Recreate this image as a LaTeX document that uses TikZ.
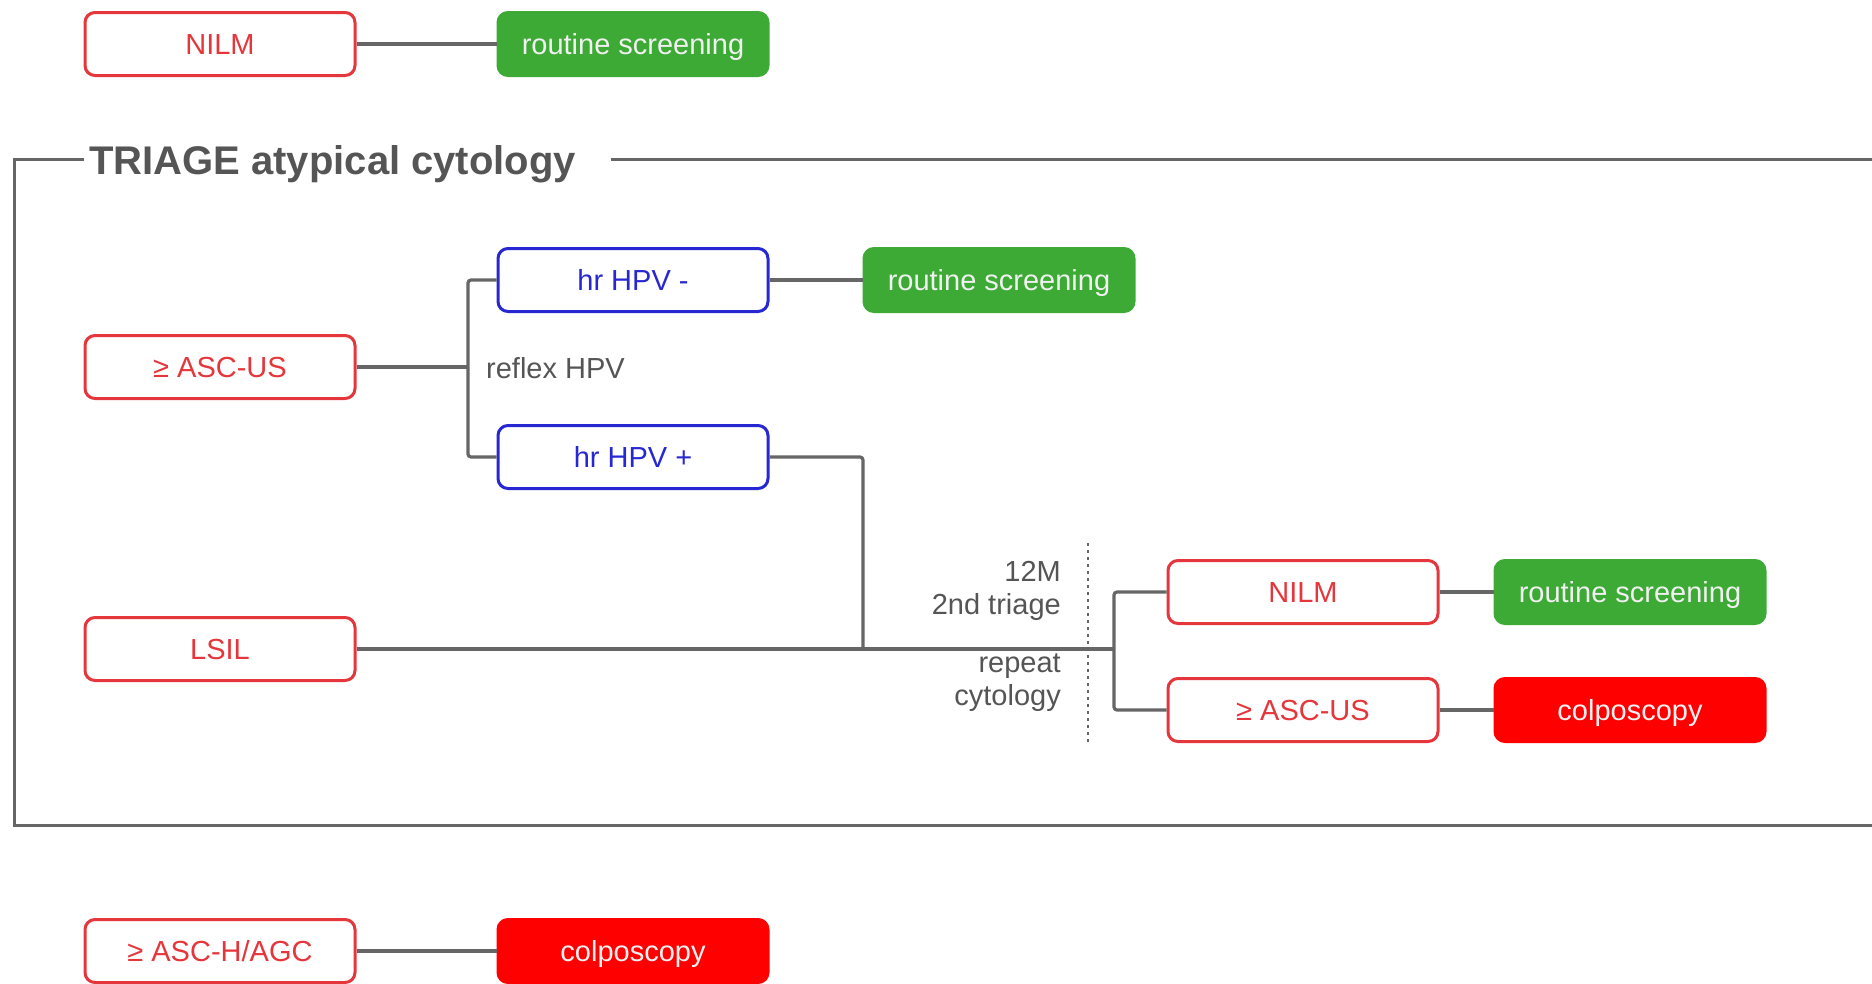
\documentclass[tikz,border=0pt]{standalone}
\usepackage{fontspec}
\setmainfont{Liberation Sans}
\definecolor{cred}{HTML}{E5363C}
\definecolor{cblue}{HTML}{2828D2}
\definecolor{cgreen}{HTML}{3CAA35}
\definecolor{cfill}{HTML}{FF0000}
\definecolor{cline}{HTML}{666666}
\definecolor{ctext}{HTML}{555555}
\begin{document}
\begin{tikzpicture}[x=1pt,y=-1pt,
  box/.style={rounded corners=10pt,line width=3pt,minimum width=270pt,minimum height=63pt,inner sep=0pt,text height=23pt,text depth=3pt,font=\fontsize{29}{34}\selectfont},
  redbox/.style={box,draw=cred,fill=white,text=cred},
  bluebox/.style={box,draw=cblue,fill=white,text=cblue},
  greenbox/.style={box,draw=cgreen,fill=cgreen,text=white!94!black},
  fillbox/.style={box,draw=cfill,fill=cfill,text=white!94!black},
  conn/.style={draw=cline,line width=3.2pt,rounded corners=3pt},
  lbl/.style={text=ctext,font=\fontsize{29}{34}\selectfont,inner sep=0pt}]
\useasboundingbox (0,0) rectangle (1872,983);
\begin{scope}
\clip (0,0) rectangle (1872,983);
% frame
\coordinate (fa) at (84,159);
\coordinate (fb) at (14,159);
\coordinate (fc) at (14,825);
\coordinate (fd) at (1880,825);
\coordinate (fe) at (611,159);
\coordinate (ff) at (1880,159);
\draw[cline,line width=3pt] (fa) -- (fb) -- (fc) -- (fd);
\draw[cline,line width=3pt] (fe) -- (ff);
\node[anchor=west,text=ctext,font=\bfseries\fontsize{40}{46}\selectfont,inner sep=0pt] (title) at (89,164) {TRIAGE atypical cytology};

% top row
\node[redbox] (nilm1) at (220,44) {NILM};
\node[greenbox] (rs1) at (633,44) {routine screening};
\draw[conn] (nilm1) -- (rs1);

% ASC-US branch
\node[redbox] (asc1) at (220,367) {≥ ASC-US};
\node[bluebox] (hrm) at (633,280) {hr HPV -};
\node[bluebox] (hrp) at (633,457) {hr HPV +};
\node[greenbox] (rs2) at (999,280) {routine screening};
\node[lbl,anchor=west] (reflex) at (486,368) {reflex HPV};
\coordinate (b1) at (468,367);
\draw[conn] (asc1.east) -- (b1);
\draw[conn] (hrm.west) -| (b1) |- (hrp.west);
\draw[conn] (hrm) -- (rs2);

% LSIL
\node[redbox] (lsil) at (220,649) {LSIL};
\coordinate (j1) at (863,649);
\coordinate (j2) at (1114,649);
\draw[conn] (hrp.east) -| (j1);
\draw[conn] (lsil.east) -- (j2);

% second triage
\coordinate (d1) at (1088,543);
\coordinate (d2) at (1088,746);
\draw[cline,line width=2.2pt,dash pattern=on 2.5pt off 4.5pt] (d1) -- (d2);
\node[lbl,anchor=east,align=right] (m12) at (1061,591) {12M\\[-1pt]2nd triage};
\node[lbl,anchor=east,align=right] (rep) at (1061,683) {repeat\\[-1pt]cytology};

\node[redbox] (nilm2) at (1303,592) {NILM};
\node[redbox] (asc2) at (1303,710) {≥ ASC-US};
\node[greenbox] (rs3) at (1630,592) {routine screening};
\node[fillbox] (col2) at (1630,710) {colposcopy};
\draw[conn] (nilm2.west) -| (j2) |- (asc2.west);
\draw[conn] (nilm2) -- (rs3);
\draw[conn] (asc2) -- (col2);

% bottom row
\node[redbox] (asch) at (220,951) {≥ ASC-H/AGC};
\node[fillbox] (col3) at (633,951) {colposcopy};
\draw[conn] (asch) -- (col3);
\end{scope}
\end{tikzpicture}
\end{document}
